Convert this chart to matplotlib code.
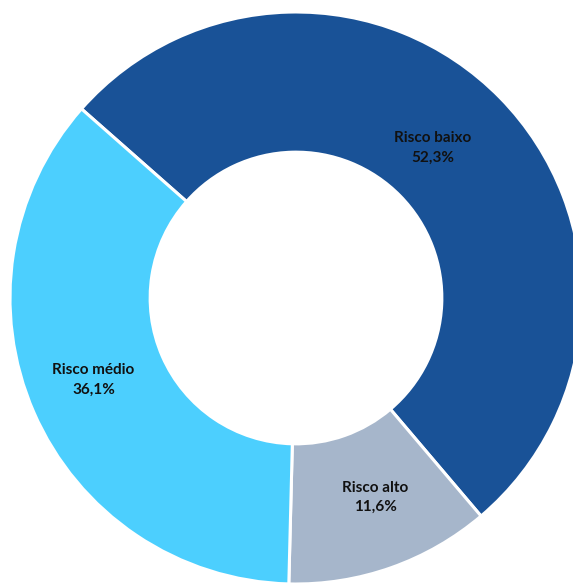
import numpy as np
import matplotlib
matplotlib.use("Agg")
import matplotlib.pyplot as plt

categories = ["Risco baixo", "Risco alto", "Risco médio"]
values = [52.3, 11.6, 36.1]
value_labels = ["52,3%", "11,6%", "36,1%"]
colors = ["#195297", "#A6B6CB", "#4CCFFE"]
label_offsets = [(-16, 0), (8, 3), (-6, 4)]

W, H = 573, 583
fig = plt.figure(figsize=(W / 100, H / 100), dpi=100)
ax = fig.add_axes([0, 0, 1, 1])
cx, cy, R = 296, H - 298, 286
wedges, _ = ax.pie(values, colors=colors, startangle=138.6, counterclock=False,
                   center=(cx, cy), radius=R,
                   wedgeprops=dict(width=R * 0.49, edgecolor="white", linewidth=2.2))
ax.set_xlim(0, W)
ax.set_ylim(0, H)
ax.set_aspect("equal")
ax.axis("off")

for w, cat, lab, (ox, oy) in zip(wedges, categories, value_labels, label_offsets):
    ang = np.deg2rad((w.theta1 + w.theta2) / 2)
    r = R * 0.75
    ax.text(cx + r * np.cos(ang) + ox, cy + r * np.sin(ang) + oy, f"{cat}\n{lab}",
            ha="center", va="center", fontsize=11, fontweight="bold",
            family=["Lato", "DejaVu Sans"], color="#111111", linespacing=1.5)

fig.savefig("out.png", dpi=100)
